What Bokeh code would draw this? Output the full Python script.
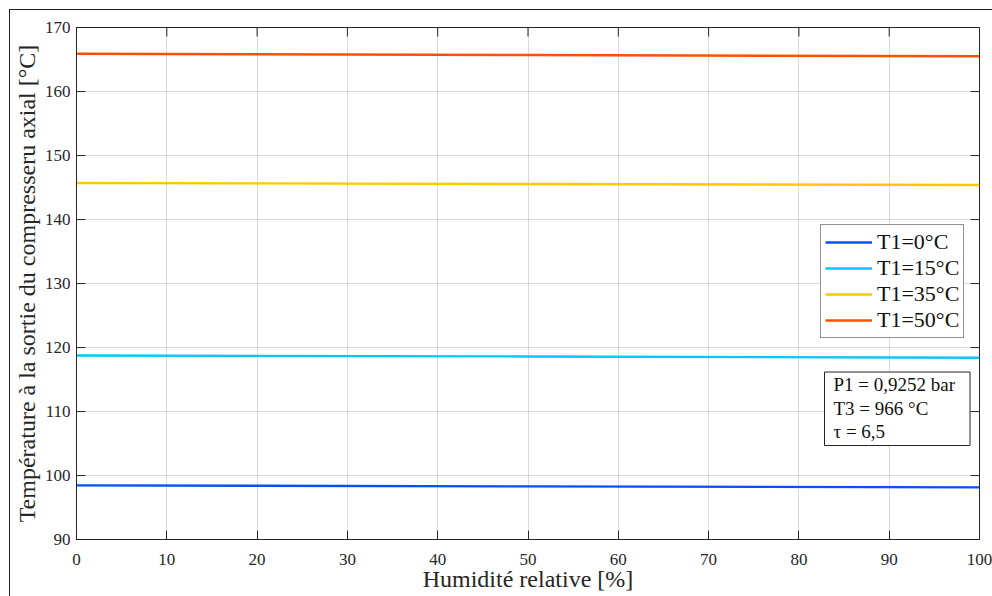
import math
from bokeh.plotting import figure
from bokeh.models import (Range1d, Legend, LegendItem, Label, FixedTicker,
                          LinearAxis, Grid)
from bokeh.embed import file_html
from bokeh.resources import INLINE

# Relative humidity [%] and compressor outlet temperature [°C] for each inlet temperature
humidity = [0, 50, 100]
t1_0 = [98.45, 98.3, 98.15]
t1_15 = [118.75, 118.6, 118.4]
t1_35 = [145.7, 145.55, 145.4]
t1_50 = [165.9, 165.7, 165.5]

series_labels = ["T1=0°C", "T1=15°C", "T1=35°C", "T1=50°C"]
series_colors = ["#0050ff", "#00c8ff", "#ffc800", "#ff5000"]

x_ticks = [0, 10, 20, 30, 40, 50, 60, 70, 80, 90, 100]
y_ticks = [90, 100, 110, 120, 130, 140, 150, 160, 170]

conditions = "P1 = 0,9252 bar\nT3 = 966 °C\nτ = 6,5"

FONT = "Liberation Serif"
INK = "#262626"

p = figure(width=983, height=587, output_backend="svg", toolbar_location=None,
           x_range=Range1d(0, 100), y_range=Range1d(90, 170),
           x_axis_type=None, y_axis_type=None,
           min_border_left=64, min_border_right=14, min_border_top=17,
           min_border_bottom=58)
p.margin = (9, 0, 0, 9)
p.styles = {"border-top": "1.5px solid #222", "border-left": "1.5px solid #222"}
p.background_fill_color = "white"
p.border_fill_color = "white"
p.outline_line_color = INK
p.outline_line_width = 1

renderers = []
for ys, color in zip([t1_0, t1_15, t1_35, t1_50], series_colors):
    r = p.line(humidity, ys, line_color=color, line_width=2.4)
    renderers.append(r)

xaxis = LinearAxis(ticker=FixedTicker(ticks=x_ticks),
                   axis_label="Humidité relative [%]")
yaxis = LinearAxis(ticker=FixedTicker(ticks=y_ticks),
                   axis_label="Température à la sortie du compresseru axial [°C]")

# Axes in the MATLAB style: ticks pointing inwards
for ax in (xaxis, yaxis):
    ax.major_tick_in = 9
    ax.major_tick_out = 0
    ax.major_tick_line_width = 1
    ax.minor_tick_line_color = None
    ax.axis_line_color = INK
    ax.major_tick_line_color = INK
    ax.major_label_text_font = FONT
    ax.major_label_text_font_size = "17px"
    ax.major_label_text_color = INK
    ax.axis_label_text_font = FONT
    ax.axis_label_text_font_size = "24px"
    ax.axis_label_text_font_style = "normal"
    ax.axis_label_text_color = INK

xaxis.major_label_standoff = 14
xaxis.axis_label_standoff = -2
yaxis.major_label_standoff = 6
yaxis.axis_label_standoff = 2
p.add_layout(xaxis, "below")
p.add_layout(yaxis, "left")

# Inward ticks along the top and right edges of the box (half of each dash is clipped)
p.scatter(x_ticks, [170] * len(x_ticks), marker="dash", size=18, angle=math.pi / 2,
          line_color=INK, line_width=1)
p.scatter([100] * len(y_ticks), y_ticks, marker="dash", size=18,
          line_color=INK, line_width=1)

p.add_layout(Grid(dimension=0, ticker=FixedTicker(ticks=x_ticks),
                  grid_line_color="#000000", grid_line_alpha=0.15))
p.add_layout(Grid(dimension=1, ticker=FixedTicker(ticks=y_ticks),
                  grid_line_color="#000000", grid_line_alpha=0.15))

legend = Legend(items=[LegendItem(label=lab, renderers=[r])
                       for lab, r in zip(series_labels, renderers)],
                location=(744, 201), orientation="vertical")
legend.label_text_font = FONT
legend.label_text_font_size = "22px"
legend.label_text_color = "#111"
legend.glyph_width = 47
legend.glyph_height = 26
legend.label_height = 26
legend.label_standoff = 5
legend.spacing = 0
legend.padding = 4
legend.margin = 0
legend.border_line_color = INK
legend.border_line_width = 1
legend.background_fill_color = "white"
legend.background_fill_alpha = 1
p.add_layout(legend, "center")

# Operating conditions box
note = Label(x=748, y=94, x_units="screen", y_units="screen", text=conditions,
             text_font=FONT, text_font_size="19px", text_color="#111",
             text_line_height=1.13, padding=(9, 15, 2, 3),
             border_line_color=INK, border_line_width=1,
             background_fill_color="white")
p.add_layout(note)

open("out.html", "w").write(file_html(p, INLINE))
